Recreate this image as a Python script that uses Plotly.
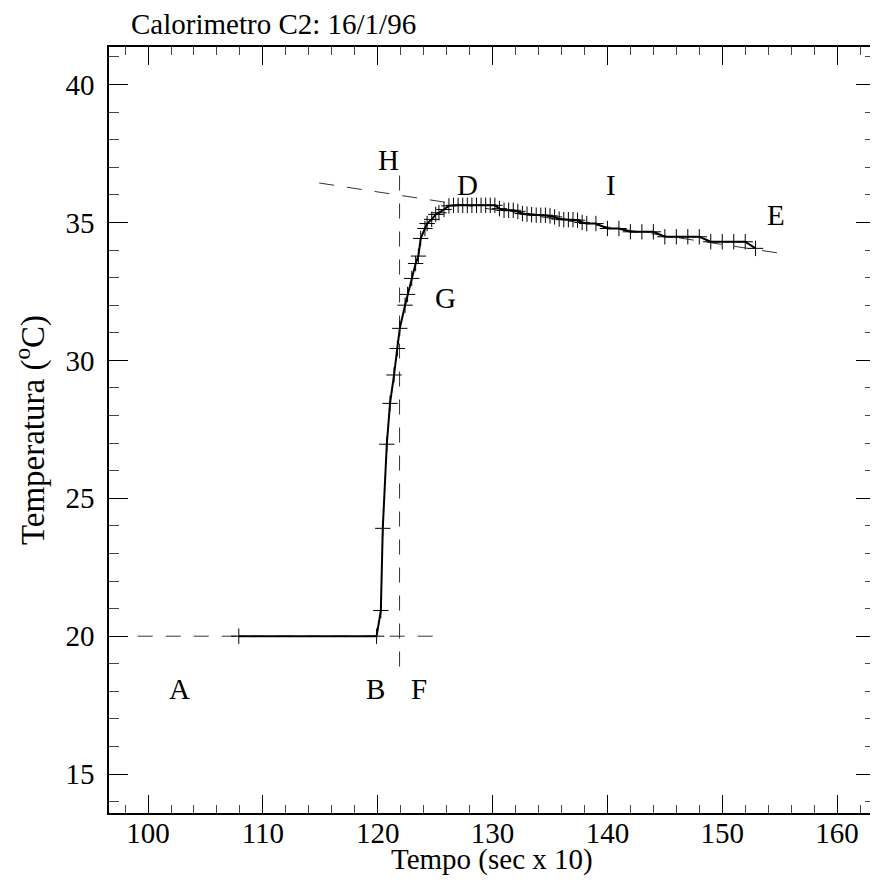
import plotly.graph_objects as go

# ---- data ----
tempo = [107.9, 119.9, 120.27, 120.44, 120.79, 121.07, 121.42, 121.71, 121.92,
         122.38, 122.6, 122.96, 123.3, 123.54, 123.74, 124.11, 124.3, 124.7,
         125.05, 125.33, 125.77, 126.2, 126.6, 127.0, 127.4, 127.8, 128.2,
         128.6, 129.0, 129.4, 129.8, 130.2, 130.6, 131.0, 131.4, 131.8, 132.2,
         132.6, 133.0, 133.4, 133.8, 134.2, 134.6, 135.0, 135.4, 135.8, 136.2,
         136.6, 137.0, 137.4, 137.8, 138.2, 139.0, 140.0, 141.0, 142.0, 143.0,
         144.0, 145.0, 146.0, 147.0, 148.0, 149.0, 150.0, 151.0, 152.0, 152.9]
temperatura = [20.0, 20.0, 20.93, 23.91, 26.96, 28.44, 29.47, 30.43, 31.16,
               32.0, 32.39, 32.97, 33.51, 33.78, 34.42, 34.78, 34.96, 35.11,
               35.29, 35.35, 35.47, 35.6, 35.62, 35.62, 35.62, 35.62, 35.62,
               35.62, 35.62, 35.62, 35.62, 35.62, 35.5, 35.44, 35.44, 35.44, 35.4,
               35.32, 35.3, 35.28, 35.26, 35.26, 35.26, 35.24, 35.2, 35.12, 35.1,
               35.1, 35.1, 35.08, 35.0, 34.96, 34.96, 34.78, 34.78, 34.66, 34.66,
               34.66, 34.48, 34.48, 34.48, 34.48, 34.3, 34.3, 34.3, 34.3, 34.06]

# construction lines
base_x = [99.1, 125.1]
base_y = [20.0, 20.0]
vert_x = [121.9, 121.9]
vert_y = [18.9, 37.0]
plat_x = [114.9, 154.9]
plat_y = [36.43, 33.89]

# point labels
lett_text = ["A", "B", "F", "G", "H", "D", "I", "E"]
lett_x = [102.7, 119.8, 123.6, 125.9, 120.9, 127.8, 140.3, 154.7]
lett_y = [18.1, 18.1, 18.1, 32.25, 37.25, 36.35, 36.35, 35.26]

x_range = [96.6, 163.3]
y_range = [13.59, 41.36]

FONT = "Liberation Serif, Times New Roman, serif"
FS = 29

fig = go.Figure()
dash = "15px,13px"
for xs, ys in [(base_x, base_y), (vert_x, vert_y), (plat_x, plat_y)]:
    fig.add_trace(go.Scatter(x=xs, y=ys, mode="lines",
                             line=dict(color="#333333", width=1, dash=dash),
                             hoverinfo="skip", showlegend=False))

fig.add_trace(go.Scatter(x=tempo, y=temperatura, mode="lines+markers",
                         line=dict(color="black", width=2),
                         marker=dict(symbol="cross-thin", size=11,
                                     line=dict(color="black", width=1)),
                         showlegend=False))

for t, x, y in zip(lett_text, lett_x, lett_y):
    fig.add_annotation(x=x, y=y, text=t, showarrow=False,
                       font=dict(family=FONT, size=FS, color="black"))

# title and axis titles
fig.add_annotation(xref="paper", yref="paper", x=0.026, y=1.030,
                   xanchor="left", yanchor="middle", showarrow=False,
                   text="Calorimetro C2: 16/1/96",
                   font=dict(family=FONT, size=FS, color="black"))
fig.add_annotation(xref="paper", yref="paper", x=0.5, y=-0.061,
                   xanchor="center", yanchor="middle", showarrow=False,
                   text="Tempo (sec x 10)",
                   font=dict(family=FONT, size=FS, color="black"))
fig.add_annotation(xref="paper", yref="paper", x=-0.103, y=0.5,
                   xanchor="center", yanchor="middle", showarrow=False,
                   textangle=-90, text="Temperatura (<sup>o</sup>C)",
                   font=dict(family=FONT, size=33, color="black"))

axis_common = dict(showline=True, linecolor="black", linewidth=1.5,
                   mirror="allticks", ticks="inside", tickcolor="black",
                   tickwidth=1, showgrid=False, zeroline=False,
                   tickfont=dict(family=FONT, size=FS, color="black"))

fig.update_xaxes(range=x_range, tick0=100, dtick=10, ticklen=18,
                 ticklabelstandoff=-7,
                 minor=dict(ticks="inside", dtick=2, ticklen=8,
                            tickcolor="#444444", tickwidth=1),
                 **axis_common)
fig.update_yaxes(range=y_range, tick0=15, dtick=5, ticklen=19,
                 ticklabelstandoff=7,
                 minor=dict(ticks="inside", dtick=1, ticklen=10,
                            tickcolor="#444444", tickwidth=1),
                 **axis_common)

# the page adds an 8px body margin, so the figure is 8px smaller
fig.update_layout(width=870, height=872,
                  margin=dict(l=101, r=1, t=39, b=67, pad=0),
                  plot_bgcolor="white", paper_bgcolor="white",
                  font=dict(family=FONT, size=FS, color="black"))

fig.write_html("out.html")
